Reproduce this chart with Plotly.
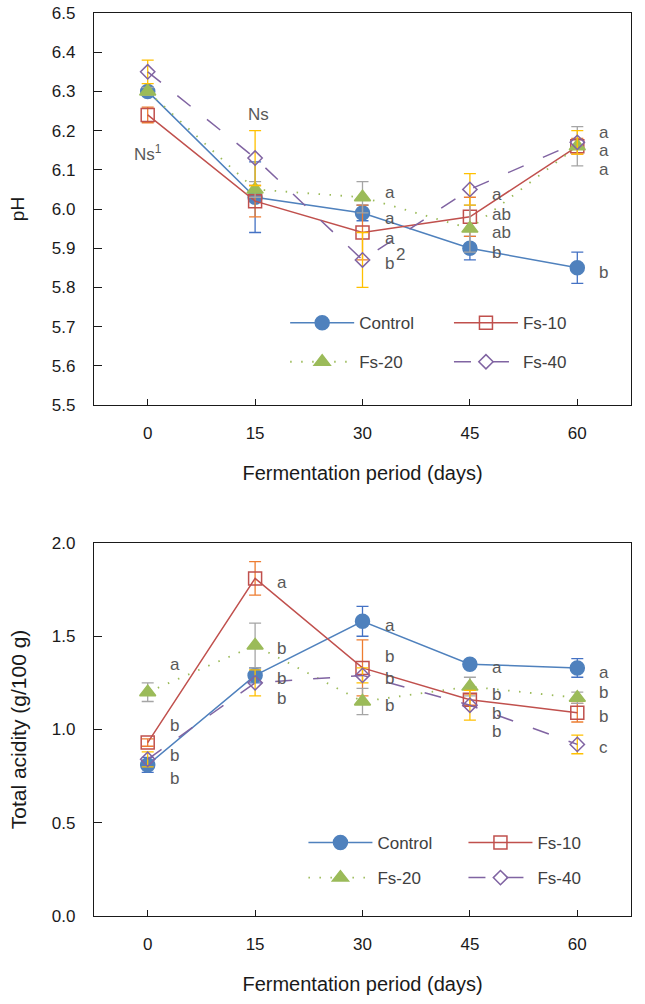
import plotly.graph_objects as go

# ---------------- data ----------------
days = [0, 15, 30, 45, 60]
series_names = ["Control", "Fs-10", "Fs-20", "Fs-40"]

ph_control = [6.30, 6.03, 5.99, 5.90, 5.85]
ph_fs10 = [6.24, 6.02, 5.94, 5.98, 6.16]
ph_fs20 = [6.30, 6.05, 6.03, 5.95, 6.16]
ph_fs40 = [6.35, 6.13, 5.87, 6.05, 6.17]

ph_err_control = [0.01, 0.09, 0.02, 0.03, 0.04]
ph_err_fs10 = [0.02, 0.04, 0.07, 0.05, 0.02]
ph_err_fs20 = [0.01, 0.02, 0.04, 0.06, 0.05]
ph_err_fs40 = [0.03, 0.07, 0.07, 0.04, 0.03]

ta_control = [0.81, 1.29, 1.58, 1.35, 1.33]
ta_fs10 = [0.93, 1.81, 1.33, 1.16, 1.09]
ta_fs20 = [1.20, 1.45, 1.15, 1.23, 1.17]
ta_fs40 = [0.84, 1.25, 1.29, 1.13, 0.92]

ta_err_control = [0.04, 0.04, 0.08, 0.02, 0.05]
ta_err_fs10 = [0.02, 0.09, 0.15, 0.03, 0.05]
ta_err_fs20 = [0.05, 0.12, 0.07, 0.05, 0.03]
ta_err_fs40 = [0.04, 0.07, 0.04, 0.08, 0.05]

x_ticks = [0, 15, 30, 45, 60]
x_title = "Fermentation period (days)"
ph_title = "pH"
ta_title = "Total acidity (g/100 g)"

# significance letters (text, day, y placement)
ph_sig_text = ["a", "a", "a", "b", "a", "ab", "ab", "b", "a", "a", "a", "b"]
ph_sig_day = [30, 30, 30, 30, 45, 45, 45, 45, 60, 60, 60, 60]
ph_sig_y = [6.041, 5.977, 5.926, 5.862, 6.038, 5.987, 5.939, 5.888, 6.196, 6.148, 6.102, 5.837]

ta_sig_text = ["a", "b", "b", "b", "a", "b", "b", "b", "a", "b", "b", "b",
               "a", "b", "b", "b", "a", "b", "b", "c"]
ta_sig_day = [0] * 4 + [15] * 4 + [30] * 4 + [45] * 4 + [60] * 4
ta_sig_y = [1.346, 1.024, 0.858, 0.735, 1.786, 1.432, 1.276, 1.164,
            1.560, 1.394, 1.271, 1.131, 1.330, 1.185, 1.088, 0.987,
            1.308, 1.201, 1.067, 0.901]

# ---------------- styles ----------------
FONT = "Liberation Sans, Arial, sans-serif"
line_colors = ["#4F81BD", "#C0504D", "#9BBB59", "#8064A2"]
err_colors = ["#4472C4", "#ED7D31", "#A5A5A5", "#FFC000"]
symbols = ["circle", "square-open", "triangle-up", "diamond-open"]
msizes = [14, 13, 14, 11]
dashes = ["solid", "solid", "1.5px,9.5px", "17px,21px"]
lwidths = [1.5, 1.5, 1.8, 1.5]

fig = go.Figure()

ph_vals = [ph_control, ph_fs10, ph_fs20, ph_fs40]
ph_errs = [ph_err_control, ph_err_fs10, ph_err_fs20, ph_err_fs40]
ta_vals = [ta_control, ta_fs10, ta_fs20, ta_fs40]
ta_errs = [ta_err_control, ta_err_fs10, ta_err_fs20, ta_err_fs40]

top_legends = ["legend", "legend2", "legend", "legend2"]
bot_legends = ["legend3", "legend4", "legend3", "legend4"]

for i, name in enumerate(series_names):
    marker = dict(symbol=symbols[i], size=msizes[i], color=line_colors[i],
                  line=dict(color=line_colors[i], width=1.5))
    fig.add_trace(go.Scatter(
        x=days, y=ph_vals[i], name=name, mode="lines+markers",
        line=dict(color=line_colors[i], width=lwidths[i], dash=dashes[i]),
        marker=marker,
        error_y=dict(type="data", array=ph_errs[i], visible=True,
                     color=err_colors[i], thickness=1.3, width=6),
        xaxis="x", yaxis="y", legend=top_legends[i], legendgroup="t" + name,
    ))
for i, name in enumerate(series_names):
    marker = dict(symbol=symbols[i], size=msizes[i], color=line_colors[i],
                  line=dict(color=line_colors[i], width=1.5))
    fig.add_trace(go.Scatter(
        x=days, y=ta_vals[i], name=name, mode="lines+markers",
        line=dict(color=line_colors[i], width=lwidths[i], dash=dashes[i]),
        marker=marker,
        error_y=dict(type="data", array=ta_errs[i], visible=True,
                     color=err_colors[i], thickness=1.3, width=6),
        xaxis="x2", yaxis="y2", legend=bot_legends[i], legendgroup="b" + name,
    ))

ann_font = dict(family=FONT, size=17, color="#595959")
annotations = []
for t, d, y in zip(ph_sig_text, ph_sig_day, ph_sig_y):
    annotations.append(dict(x=d, y=y, xref="x", yref="y", text=t, showarrow=False,
                            xanchor="left", yanchor="middle", xshift=20, font=ann_font))
for t, d, y in zip(ta_sig_text, ta_sig_day, ta_sig_y):
    annotations.append(dict(x=d, y=y, xref="x2", yref="y2", text=t, showarrow=False,
                            xanchor="left", yanchor="middle", xshift=20, font=ann_font))
annotations.append(dict(x=0, y=6.143, xref="x", yref="y", text="Ns<sup>1</sup>",
                        showarrow=False, xanchor="center", yanchor="middle", font=ann_font))
annotations.append(dict(x=15, y=6.242, xref="x", yref="y", text="Ns",
                        showarrow=False, xanchor="center", yanchor="middle", xshift=3,
                        font=ann_font))
annotations.append(dict(x=35.3, y=5.883, xref="x", yref="y", text="2",
                        showarrow=False, xanchor="center", yanchor="middle", font=ann_font))

tick_font = dict(family=FONT, size=17, color="#1a1a1a")
title_font = dict(family=FONT, size=20, color="#1a1a1a")

def xaxis_cfg(anchor):
    return dict(anchor=anchor, domain=[0, 1], range=[-7.5, 67.5], tickvals=x_ticks,
                ticks="inside", ticklen=6, tickwidth=1, tickcolor="#1a1a1a",
                showline=True, mirror=True, linecolor="#1a1a1a", linewidth=1.3,
                showgrid=False, zeroline=False, tickfont=tick_font,
                ticklabelstandoff=12, automargin=False, ticklabeloverflow="allow",
                title=dict(text=x_title, font=title_font, standoff=24))

def yaxis_cfg(anchor, domain, rng, dtick, title, tsize, tstand):
    return dict(anchor=anchor, domain=domain, range=rng, dtick=dtick, tickformat=".1f",
                ticks="inside", ticklen=8, tickwidth=1, tickcolor="#1a1a1a",
                showline=True, mirror=True, linecolor="#1a1a1a", linewidth=1.3,
                showgrid=False, zeroline=False, tickfont=tick_font,
                ticklabelstandoff=14, automargin=False, ticklabeloverflow="allow",
                title=dict(text=title, font=dict(family=FONT, size=tsize, color="#1a1a1a"),
                           standoff=tstand))

leg_font = dict(family=FONT, size=17, color="#404040")
def leg(x, y, gap):
    return dict(x=x, y=y, xanchor="left", yanchor="middle", orientation="v",
                bgcolor="rgba(0,0,0,0)", font=leg_font, itemwidth=64,
                tracegroupgap=gap, traceorder="grouped")

fig.update_layout(
    width=645, height=1004,
    margin=dict(l=94, r=14, t=13, b=88, autoexpand=False),
    paper_bgcolor="white", plot_bgcolor="white",
    font=dict(family=FONT),
    xaxis=xaxis_cfg("y"),
    yaxis=yaxis_cfg("x", [0.5659, 1.0], [5.5, 6.5], 0.1, ph_title, 19, 22),
    xaxis2=xaxis_cfg("y2"),
    yaxis2=yaxis_cfg("x2", [0.0, 0.4131], [0.0, 2.0], 0.5, ta_title, 21, 19),
    legend=leg(0.356, 0.635, 14),
    legend2=leg(0.661, 0.635, 14),
    legend3=leg(0.390, 0.0615, 10),
    legend4=leg(0.688, 0.0615, 10),
    annotations=annotations,
    showlegend=True,
)

# remove the browser's default page margin so the figure fills the window exactly
fig.write_html(
    "out.html",
    config={"displayModeBar": False},
    post_script="document.body.style.margin='0';document.body.style.overflow='hidden';",
)
